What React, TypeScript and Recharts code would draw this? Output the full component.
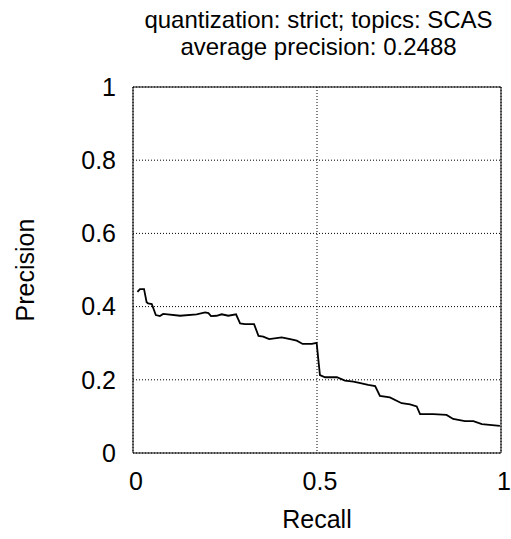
import React from 'react';
import { LineChart, Line, XAxis, YAxis, CartesianGrid, Label } from 'recharts';

const titleLines = ['quantization: strict; topics: SCAS', 'average precision: 0.2488'];
const xTicks = [0, 0.5, 1];
const yTicks = [0, 0.2, 0.4, 0.6, 0.8, 1];

const recall = [
  0.012, 0.019, 0.030, 0.037, 0.041, 0.051, 0.062, 0.073, 0.082, 0.128, 0.173, 0.196,
  0.205, 0.212, 0.227, 0.241, 0.259, 0.280, 0.291, 0.304, 0.329, 0.341, 0.354, 0.370,
  0.404, 0.427, 0.445, 0.461, 0.486, 0.499, 0.508, 0.522, 0.554, 0.576, 0.599, 0.621,
  0.639, 0.658, 0.671, 0.698, 0.730, 0.753, 0.771, 0.780, 0.816, 0.852, 0.870, 0.902,
  0.925, 0.948, 0.997,
];
const precision = [
  0.440, 0.448, 0.448, 0.412, 0.409, 0.407, 0.377, 0.374, 0.380, 0.375, 0.379, 0.384,
  0.382, 0.374, 0.375, 0.379, 0.375, 0.379, 0.354, 0.352, 0.352, 0.320, 0.318, 0.311,
  0.316, 0.311, 0.307, 0.298, 0.298, 0.301, 0.213, 0.207, 0.207, 0.198, 0.195, 0.190,
  0.186, 0.183, 0.156, 0.152, 0.136, 0.133, 0.127, 0.106, 0.106, 0.104, 0.093, 0.087,
  0.087, 0.079, 0.074,
];

const data = recall.map((r, i) => ({ recall: r, precision: precision[i] }));

const FONT = '"Liberation Sans", Arial, sans-serif';

export default function App() {
  return (
    <div style={{ position: 'absolute', left: 0, top: 0, width: 511, height: 539, fontFamily: FONT, background: '#fff' }}>
      <div
        style={{
          position: 'absolute',
          left: 118.5,
          top: 6,
          width: 400,
          textAlign: 'center',
          fontSize: 24,
          lineHeight: '27px',
          color: '#000',
          whiteSpace: 'nowrap',
        }}
      >
        {titleLines.map((t) => (
          <div key={t}>{t}</div>
        ))}
      </div>
      <LineChart width={511} height={539} data={data} margin={{ top: 87, right: 10, bottom: 0, left: 0 }}>
        <CartesianGrid xAxisId="b" yAxisId="l" stroke="#000" strokeDasharray="1 2" strokeWidth={1} />
        <XAxis
          xAxisId="b"
          dataKey="recall"
          type="number"
          domain={[0, 1]}
          ticks={xTicks}
          height={86}
          tickLine={false}
          tickSize={0}
          tickMargin={19}
          axisLine={{ stroke: '#000' }}
          tick={{ fontSize: 25, fill: '#000', fontFamily: FONT, dx: 3 }}
          tickFormatter={(v: number) => String(v)}
        >
          <Label value="Recall" position="insideBottom" offset={11} style={{ fontSize: 25, fill: '#000', fontFamily: FONT }} />
        </XAxis>
        <XAxis
          xAxisId="bm"
          dataKey="recall"
          type="number"
          domain={[0, 1]}
          ticks={xTicks}
          orientation="bottom"
          mirror
          tick={false}
          tickSize={6}
          axisLine={false}
          tickLine={{ stroke: '#000' }}
        />
        <XAxis
          xAxisId="t"
          dataKey="recall"
          type="number"
          domain={[0, 1]}
          ticks={xTicks}
          orientation="top"
          mirror
          tick={false}
          tickSize={6}
          axisLine={{ stroke: '#000' }}
          tickLine={{ stroke: '#000' }}
        />
        <YAxis
          yAxisId="l"
          type="number"
          domain={[0, 1]}
          ticks={yTicks}
          width={133}
          tickLine={false}
          tickSize={0}
          tickMargin={17}
          axisLine={{ stroke: '#000' }}
          tick={{ fontSize: 25, fill: '#000', fontFamily: FONT }}
          tickFormatter={(v: number) => String(v)}
        >
          <Label
            value="Precision"
            angle={-90}
            position="insideLeft"
            offset={25}
            style={{ fontSize: 25, fill: '#000', fontFamily: FONT, textAnchor: 'middle' }}
          />
        </YAxis>
        <YAxis
          yAxisId="lm"
          type="number"
          domain={[0, 1]}
          ticks={yTicks}
          orientation="left"
          mirror
          tick={false}
          tickSize={6}
          axisLine={false}
          tickLine={{ stroke: '#000' }}
        />
        <YAxis
          yAxisId="r"
          type="number"
          domain={[0, 1]}
          ticks={yTicks}
          orientation="right"
          mirror
          tick={false}
          tickSize={6}
          axisLine={{ stroke: '#000' }}
          tickLine={{ stroke: '#000' }}
        />
        <Line
          xAxisId="b"
          yAxisId="l"
          type="linear"
          dataKey="precision"
          stroke="#000"
          strokeWidth={1.8}
          dot={false}
          isAnimationActive={false}
        />
      </LineChart>
    </div>
  );
}
